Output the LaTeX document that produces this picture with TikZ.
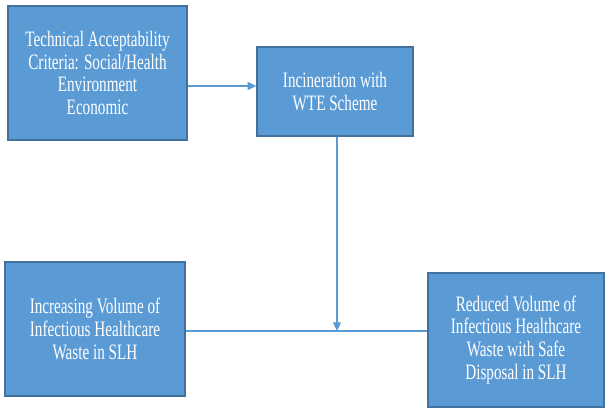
\documentclass[tikz,border=0pt]{standalone}
\usepackage{fontspec}
\setmainfont{Liberation Serif}
\newfontfamily\narrowserif[FakeStretch=0.69]{Liberation Serif}
\usetikzlibrary{arrows.meta}
\definecolor{boxfill}{HTML}{5B9BD5}
\definecolor{boxline}{HTML}{41719C}
\definecolor{arrline}{HTML}{5B9BD5}
\tikzset{
  flowbox/.style={draw=boxline, fill=boxfill, line width=1.1pt, text=white,
    align=center, inner sep=0pt, minimum width=#1,
    font=\narrowserif\fontsize{16.5}{17.2}\selectfont},
  conn/.style={draw=arrline, line width=0.8pt},
  arr/.style={conn, -{Triangle[width=6pt,length=6.5pt]}}
}
\begin{document}
\begin{tikzpicture}[x=0.75pt,y=-0.75pt]
\useasboundingbox (0,0) rectangle (605,410);
\node[flowbox=134.25pt, minimum height=100.5pt] (crit) at (97.5,73)
  {Technical Acceptability\\Criteria: Social/Health\\Environment\\Economic};
\node[flowbox=117pt, minimum height=66.75pt] (inc) at (335,91.5)
  {Incineration with\\WTE Scheme};
\node[flowbox=135pt, minimum height=100.5pt] (incr) at (95,329)
  {Increasing Volume of\\Infectious Healthcare\\Waste in SLH};
\node[flowbox=132pt, minimum height=100.5pt] (red) at (516,340)
  {Reduced Volume of\\Infectious Healthcare\\Waste with Safe\\Disposal in SLH};
\coordinate (j) at (337,331);
\coordinate (a1) at (0,86);
\draw[arr] (crit.east |- a1) -- (inc.west |- a1);
\draw[arr] (inc.south -| j) -- (j);
\draw[conn] (incr.east |- j) -- (red.west |- j);
\end{tikzpicture}
\end{document}
